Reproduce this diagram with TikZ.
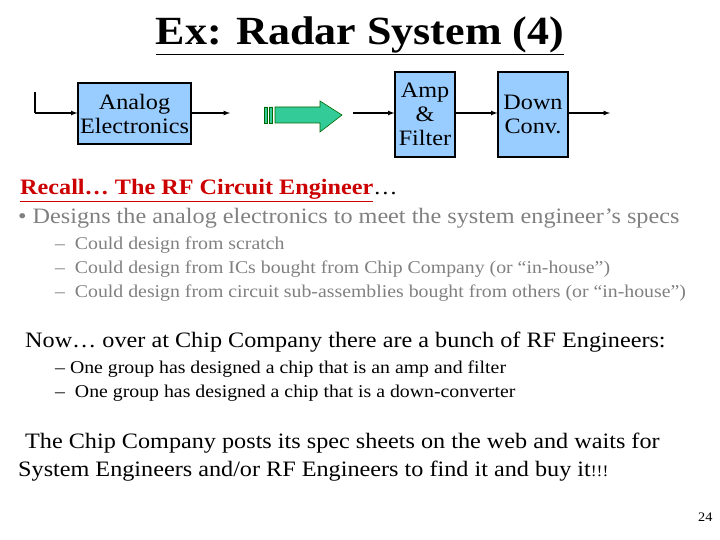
\documentclass[tikz,border=0pt]{standalone}
\usepackage{fontspec}
\setmainfont{Liberation Serif}[FakeStretch=1.1]
\definecolor{boxblue}{RGB}{153,204,255}
\definecolor{arrgreen}{RGB}{51,204,153}
\begin{document}
\begin{tikzpicture}[x=1pt,y=-1pt,
  blk/.style={draw=black,line width=1.2pt,fill=boxblue,inner sep=0pt,align=center,font=\fontsize{22}{24}\selectfont},
  wire/.style={line width=1.2pt,-latex},
  txt/.style={anchor=base west,inner sep=0pt}]
\useasboundingbox (0,0) rectangle (720,540);
\node (title) at (360,36) {\fontsize{40}{44}\selectfont\bfseries\underline{Ex: Radar System (4)}};
\node[blk,minimum width=113pt,minimum height=61pt] (ae) at (134.5,113.5) {Analog\\Electronics};
\node[blk,minimum width=60pt,minimum height=85pt] (af) at (425,114.5) {Amp\\\&\\Filter};
\node[blk,minimum width=70pt,minimum height=85pt] (dc) at (533,114.5) {Down\\Conv.};
\coordinate (in0) at (35,92);
\coordinate (in1) at (35,113);
\coordinate (o1) at (230,113);
\coordinate (i2) at (353,113);
\coordinate (o3) at (610,113);
\draw[line width=1.2pt] (in0) -- (in1);
\draw[wire] (in1) -- (ae.west|-in1);
\draw[wire] (ae.east|-o1) -- (o1);
\draw[wire] (i2) -- (af.west|-i2);
\draw[wire] (af.east|-i2) -- (dc.west|-i2);
\draw[wire] (dc.east|-o3) -- (o3);
\draw[draw=black!60!green,fill=arrgreen,line width=0.6pt] (275,107) -- (320,107) -- (320,101) -- (342,115) -- (320,132) -- (320,123) -- (275,123) -- cycle;
\draw[draw=black!60!green,fill=arrgreen,line width=0.6pt] (264,107) rectangle (267,123) (269,107) rectangle (272,123);
\node[txt] (l1) at (20,195) {\fontsize{22}{24}\selectfont\textcolor{red!80!black}{\bfseries\underline{Recall\dots\ The RF Circuit Engineer}}\dots};
\node[txt,text=black!50] (l2) at (18,223) {\fontsize{22}{24}\selectfont\textbullet\ Designs the analog electronics to meet the system engineer’s specs};
\node[txt,text=black!50] (l3) at (55,249) {\fontsize{18}{20}\selectfont –\ \ Could design from scratch};
\node[txt,text=black!50] (l4) at (55,273) {\fontsize{18}{20}\selectfont –\ \ Could design from ICs bought from Chip Company (or “in-house”)};
\node[txt,text=black!50] (l5) at (55,297) {\fontsize{18}{20}\selectfont –\ \ Could design from circuit sub-assemblies bought from others (or “in-house”)};
\node[txt] (l6) at (25,347) {\fontsize{22}{24}\selectfont Now\dots\ over at Chip Company there are a bunch of RF Engineers:};
\node[txt] (l7) at (55,373) {\fontsize{18}{20}\selectfont – One group has designed a chip that is an amp and filter};
\node[txt] (l8) at (55,397) {\fontsize{18}{20}\selectfont –\ \ One group has designed a chip that is a down-converter};
\node[txt] (l9) at (25,448) {\fontsize{22}{24}\selectfont The Chip Company posts its spec sheets on the web and waits for};
\node[txt] (l10) at (18,476) {\fontsize{22}{24}\selectfont System Engineers and/or RF Engineers to find it and buy it{\fontsize{16}{18}\selectfont!!!}};
\node[txt] (pg) at (698,521) {\fontsize{13}{14}\selectfont 24};
\end{tikzpicture}
\end{document}
